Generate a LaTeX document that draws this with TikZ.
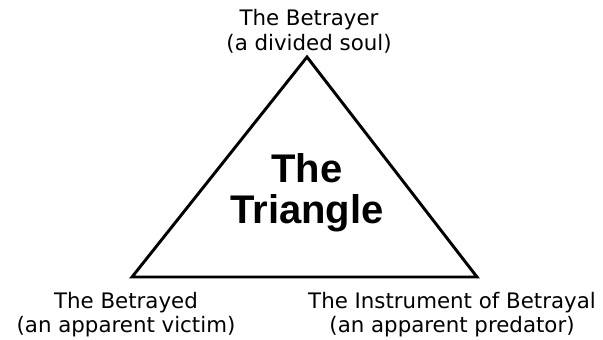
\documentclass[tikz,border=0pt]{standalone}
\usepackage{fontspec}
\setmainfont{DejaVu Sans}
\newfontfamily\bigfont{Liberation Sans}
\usetikzlibrary{positioning}

\begin{document}
\begin{tikzpicture}[x=0.75pt,y=-0.75pt]
\tikzset{
  cornerlabel/.style={align=center,inner sep=0pt,anchor=base,font=\fontsize{16}{18}\selectfont},
  titletext/.style={align=center,inner sep=0pt,anchor=base,font=\bigfont\bfseries\fontsize{30}{30.75}\selectfont},
  triside/.style={draw=black,line width=2.2pt,line join=miter}
}
\useasboundingbox (0,0) rectangle (603,339);
\coordinate (c_top) at (307,57);
\coordinate (c_left) at (132,277);
\coordinate (c_right) at (477,277);
\draw[triside] (c_top) -- (c_left) -- (c_right) -- cycle;
\node[cornerlabel] (n_betrayer) at (309,50) {The Betrayer\\(a divided soul)};
\node[cornerlabel] (n_betrayed) at (126,332) {The Betrayed\\(an apparent victim)};
\node[cornerlabel] (n_instrument) at (452,332) {The Instrument of Betrayal\\(an apparent predator)};
\node[titletext] (n_title) at (307,223) {The\\Triangle};
\end{tikzpicture}
\end{document}
